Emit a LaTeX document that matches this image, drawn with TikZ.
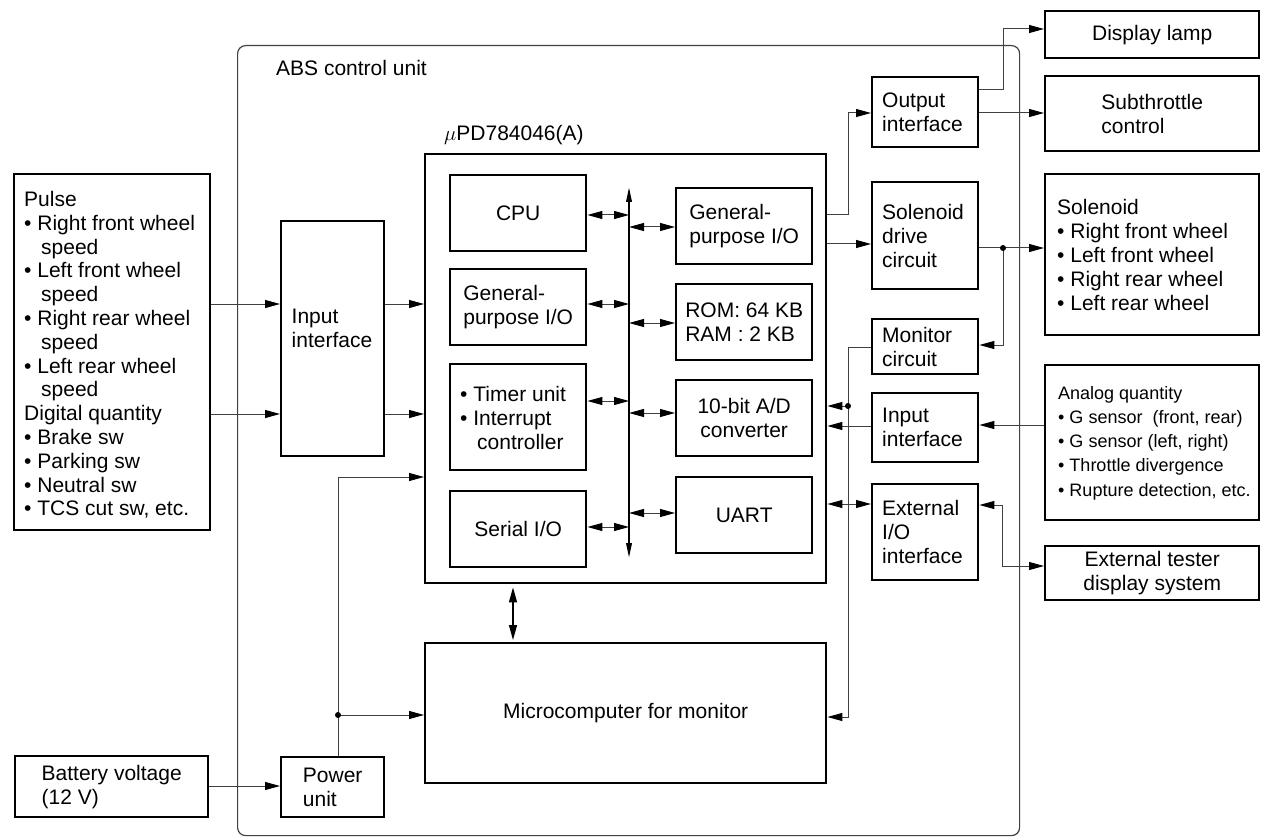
\documentclass[tikz,border=0pt]{standalone}
\usepackage{fontspec}
\setmainfont{Liberation Sans}
\usetikzlibrary{arrows.meta}
\begin{document}
\begin{tikzpicture}[x=1pt,y=-1pt,
  font=\fontsize{21}{24}\selectfont,
  box/.style={draw, line width=2.4pt, inner sep=0pt, anchor=north west, align=left},
  conn/.style={line width=1pt, draw=black!75},
  arr/.style={conn, -{Triangle[length=15pt,width=8pt,color=black]}},
  darr/.style={conn, {Triangle[length=15pt,width=8pt,color=black]}-{Triangle[length=15pt,width=8pt,color=black]}},
  dot/.style={circle, fill=black, inner sep=0pt, minimum size=6pt},
  lbl/.style={inner sep=0pt, align=left},
  rbox/.style={box, text width=86pt, inner xsep=10pt},
]
\useasboundingbox (0,0) rectangle (1261,837);

% ABS control unit frame
\node[draw=black!75, line width=1.2pt, rounded corners=8pt, minimum width=782pt, minimum height=790pt, anchor=north west, inner sep=0pt] (abs) at (237,45) {};
\node[anchor=base west, inner sep=0pt] (abslbl) at (276,76) {ABS control unit};
\node[anchor=base west, inner sep=0pt] (mulbl) at (444,141) {$\mu$PD784046(A)};

% left side
\node[box, minimum width=196pt, minimum height=356pt] (pulse) at (13,173) {};
\node[lbl, anchor=west, font=\fontsize{21}{23.8}\selectfont] (pulset) at (24,355) {Pulse\\
• Right front wheel\\
\hspace*{17pt}speed\\
• Left front wheel\\
\hspace*{17pt}speed\\
• Right rear wheel\\
\hspace*{17pt}speed\\
• Left rear wheel\\
\hspace*{17pt}speed\\
Digital quantity\\
• Brake sw\\
• Parking sw\\
• Neutral sw\\
• TCS cut sw, etc.};
\node[box, minimum width=103pt, minimum height=235pt] (inif) at (280,220) {};
\node[lbl] (inift) at (332,328) {Input\\interface};
\node[box, minimum width=193pt, minimum height=61pt] (batt) at (14,755) {Battery voltage\\(12 V)};
\node[box, minimum width=103pt, minimum height=60pt] (pwr) at (280,756) {Power\\unit};

% microcontroller
\node[box, minimum width=401pt, minimum height=429pt] (mcu) at (424,153) {};
\node[box, minimum width=136pt, minimum height=76pt] (cpu) at (449,174) {CPU};
\node[box, minimum width=136pt, minimum height=76pt] (gpio1) at (449,268) {General-\\purpose I/O};
\node[box, minimum width=136pt, minimum height=106pt] (timer) at (449,363) {};
\node[lbl, anchor=west] (timert) at (460,418) {• Timer unit\\• Interrupt\\\hspace*{17pt}controller};
\node[box, minimum width=136pt, minimum height=76pt] (sio) at (449,490) {Serial I/O};
\node[box, minimum width=136pt, minimum height=76pt] (gpio2) at (675,187) {General-\\purpose I/O};
\node[box, minimum width=136pt, minimum height=76pt] (rom) at (675,283) {ROM: 64 KB\\RAM : 2 KB};
\node[box, minimum width=136pt, minimum height=76pt, align=center] (adc) at (675,379) {10-bit A/D\\converter};
\node[box, minimum width=136pt, minimum height=76pt] (uart) at (675,476) {UART};
\coordinate (bt) at (629,187);
\coordinate (bb) at (629,558);

\node[box, minimum width=401pt, minimum height=140pt] (mon) at (424,642) {Microcomputer for monitor};

% right inner boxes
\node[rbox, minimum height=70pt] (outif) at (871,76) {Output\\interface};
\node[rbox, minimum height=107pt] (sol) at (871,181) {Solenoid\\drive\\circuit};
\node[rbox, minimum height=55pt] (moncirc) at (871,318) {Monitor\\circuit};
\node[rbox, minimum height=69pt] (inif2) at (871,392) {Input\\interface};
\node[rbox, minimum height=96pt] (extio) at (871,483) {External\\I/O\\interface};

% outside right
\node[box, minimum width=214pt, minimum height=47pt] (lamp) at (1044,10) {Display lamp};
\node[box, minimum width=214pt, minimum height=75pt] (subth) at (1044,75) {Subthrottle\\control};
\node[box, minimum width=214pt, minimum height=161pt] (solen) at (1044,173) {};
\node[lbl, anchor=west, font=\fontsize{21}{24.2}\selectfont] (solent) at (1057,255) {Solenoid\\• Right front wheel\\• Left front wheel\\• Right rear wheel\\• Left rear wheel};
\node[box, minimum width=214pt, minimum height=155pt] (analog) at (1044,364) {};
\node[lbl, anchor=west, font=\fontsize{18}{24.2}\selectfont] (analogt) at (1058,443) {Analog quantity\\• G sensor\ \ (front, rear)\\• G sensor (left, right)\\• Throttle divergence\\• Rupture detection, etc.};
\node[box, minimum width=214pt, minimum height=54pt, align=center] (tester) at (1044,545) {External tester\\display system};

% connectors left
\draw[arr] (pulse.east |- 0,304) -- (inif.west |- 0,304);
\draw[arr] (pulse.east |- 0,414) -- (inif.west |- 0,414);
\draw[arr] (inif.east |- 0,304) -- (mcu.west |- 0,304);
\draw[arr] (inif.east |- 0,414) -- (mcu.west |- 0,414);
\draw[arr] (batt.east |- 0,786) -- (pwr.west |- 0,786);
\draw[arr] (pwr.north -| 338,0) -- (338,477) -- (mcu.west |- 0,477);
\coordinate (j1) at (338,715);
\draw[arr] (j1) -- (mon.west |- j1);
\node[dot] (d1) at (j1) {};
\draw[darr, line width=1.3pt, draw=black, shorten <=3pt, shorten >=2pt] (mcu.south -| 513,0) -- (mon.north -| 513,0);

% bus
\draw[line width=2pt, {Triangle[length=15pt,width=5.5pt]}-{Triangle[length=15pt,width=5.5pt]}] (bb) -- (bt);
\draw[darr] (cpu.east |- 0,215) -- (bt |- 0,215);
\draw[darr] (gpio1.east |- 0,304) -- (bt |- 0,304);
\draw[darr] (timer.east |- 0,401) -- (bt |- 0,401);
\draw[darr] (sio.east |- 0,527) -- (bt |- 0,527);
\draw[darr] (bt |- 0,227) -- (gpio2.west |- 0,227);
\draw[darr] (bt |- 0,323) -- (rom.west |- 0,323);
\draw[darr] (bt |- 0,413) -- (adc.west |- 0,413);
\draw[darr] (bt |- 0,513) -- (uart.west |- 0,513);

% connectors right
\draw[arr] (mcu.east |- 0,215) -- (848,215) -- (848,113) -- (outif.west |- 0,113);
\draw[arr] (mcu.east |- 0,244) -- (sol.west |- 0,244);
\draw[arr] (outif.east |- 0,90) -- (1003,90) -- (1003,29) -- (lamp.west |- 0,29);
\draw[arr] (outif.east |- 0,113) -- (subth.west |- 0,113);
\coordinate (j2) at (1003,248);
\draw[arr] (sol.east |- j2) -- (solen.west |- j2);
\draw[arr] (j2) -- (1003,345) -- (moncirc.east |- 0,345);
\node[dot] (d2) at (j2) {};
\coordinate (j3) at (848,406);
\draw[arr] (moncirc.west |- 0,347) -- (848,347) -- (848,717) -- (mon.east |- 0,717);
\draw[arr] (j3) -- (mcu.east |- j3);
\node[dot] (d3) at (j3) {};
\draw[arr] (inif2.west |- 0,426) -- (mcu.east |- 0,426);
\draw[arr] (analog.west |- 0,425) -- (inif2.east |- 0,425);
\draw[darr] (mcu.east |- 0,504) -- (extio.west |- 0,504);
\draw[darr] (extio.east |- 0,505) -- (1002,505) -- (1002,566) -- (tester.west |- 0,566);
\end{tikzpicture}
\end{document}
